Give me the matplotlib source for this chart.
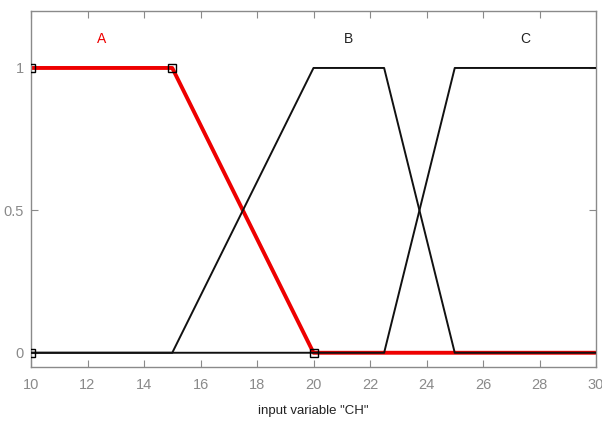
import matplotlib
matplotlib.use("Agg")
import matplotlib.pyplot as plt
import numpy as np

x_min, x_max = 10, 30
names = ["A", "B", "C"]
params = {
    "A": [10, 10, 15, 20],
    "B": [15, 20, 22.5, 25],
    "C": [22.5, 25, 30, 30],
}
label_x = [12.5, 21.25, 27.5]
xticks = [10, 12, 14, 16, 18, 20, 22, 24, 26, 28, 30]
yticks = [0, 0.5, 1]
ytick_labels = ["0", "0.5", "1"]
xlabel = 'input variable "CH"'

def trap_points(p):
    a, b, c, d = p
    xs, ys = [], []
    if a > x_min:
        xs.append(x_min); ys.append(0)
    if a < b:
        xs.append(a); ys.append(0)
    xs += [b, c]; ys += [1, 1]
    if d > c:
        xs.append(d); ys.append(0)
    if d < x_max:
        xs.append(x_max); ys.append(0)
    return xs, ys

fig = plt.figure(figsize=(6.02, 4.23), dpi=100)
ax = fig.add_axes([31/602, 56/423, 565/602, 356/423])

gray = "#8a8a8a"
font = ["Liberation Sans", "DejaVu Sans"]

xa, ya = trap_points(params["A"])
ax.plot(xa, ya, color="#ee0000", lw=2.8, zorder=2, solid_capstyle="butt")
for n in ["B", "C"]:
    xs, ys = trap_points(params[n])
    ax.plot(xs, ys, color="#111111", lw=1.4, zorder=3)

# vertex markers of selected MF
a, b, c, d = params["A"]
ax.plot([b, c, d, a], [1, 1, 0, 0], linestyle="none", marker="s", ms=6,
        mfc="none", mec="black", mew=1.0, zorder=4)

for n, lx in zip(names, label_x):
    col = "#ee0000" if n == "A" else "#222222"
    ax.text(lx, 1.1, n, color=col, ha="center", va="center", fontsize=10,
            family=font)

ax.set_xlim(x_min, x_max)
ax.set_ylim(-0.05, 1.2)
ax.set_xticks(xticks)
ax.set_xticklabels([str(t) for t in xticks])
ax.set_yticks(yticks)
ax.set_yticklabels(ytick_labels)
ax.tick_params(direction="in", top=True, right=True, colors=gray, labelcolor=gray,
               labelsize=10.5, length=5)
ax.tick_params(axis="x", pad=8)
ax.tick_params(axis="y", pad=5)
for lab in ax.get_xticklabels() + ax.get_yticklabels():
    lab.set_family(font)
for s in ax.spines.values():
    s.set_color(gray)
    s.set_linewidth(1.0)
ax.set_xlabel(xlabel, fontsize=9.5, color="#222222", labelpad=9, family=font)

fig.savefig("out.png", dpi=100)
